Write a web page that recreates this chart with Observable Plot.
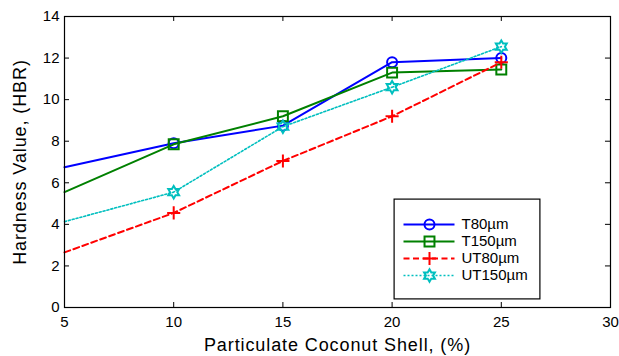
<!DOCTYPE html>
<html><head><meta charset="utf-8">
<script src="https://cdn.jsdelivr.net/npm/d3@7"></script>
<script src="https://cdn.jsdelivr.net/npm/@observablehq/plot@0.6"></script>
<style>
body{margin:0;background:#fff;}
#wrap{position:relative;width:619px;height:356px;font-family:"Liberation Sans",Arial,sans-serif;}
#chart > svg{display:block;}
[aria-label="x-axis label"], [aria-label="y-axis label"]{font-size:18px;letter-spacing:0.9px;}
[aria-label="legend text"]{letter-spacing:0.4px;}
</style></head><body><div id="wrap"><div id="chart"></div></div>
<script>
const xValues = [5, 10, 15, 20, 25];
const T80 = [6.75, 7.9, 8.75, 11.8, 12.0];
const T150 = [5.55, 7.85, 9.2, 11.3, 11.45];
const UT80 = [2.65, 4.55, 7.05, 9.2, 11.8];
const UT150 = [4.13, 5.55, 8.7, 10.6, 12.55];
const seriesNames = ["T80µm", "T150µm", "UT80µm", "UT150µm"];
const xTicks = [5, 10, 15, 20, 25, 30];
const yTicks = [0, 2, 4, 6, 8, 10, 12, 14];
const xLabel = "Particulate Coconut Shell, (%)";
const yLabel = "Hardness Value, (HBR)";

const hexagram = {
  draw(ctx, size) {
    const R = Math.sqrt(size / Math.PI) * 1.25;
    const r = R / Math.sqrt(3);
    for (let i = 0; i < 12; i++) {
      const a = Math.PI / 6 * i - Math.PI / 2;
      const rr = i % 2 ? r : R;
      const x = rr * Math.cos(a), y = rr * Math.sin(a);
      if (i) ctx.lineTo(x, y); else ctx.moveTo(x, y);
    }
    ctx.closePath();
  }
};

const seriesValues = [T80, T150, UT80, UT150];
const styles = [
  {color: "#0000ff", dash: null, symbol: "circle", r: 5, sw: 2},
  {color: "#008000", dash: null, symbol: "square", r: 5.6, sw: 2},
  {color: "#ff0000", dash: "6,3.5", symbol: "plus", r: 4.3, sw: 2},
  {color: "#00bfbf", dash: "2,2", symbol: hexagram, r: 5, sw: 1.6}
];
const series = seriesNames.map((name, k) => ({
  name, ...styles[k],
  data: xValues.map((x, i) => ({x, y: seriesValues[k][i], name}))
}));

const marks = [
  Plot.ruleX(xTicks, {x: d => d, y1: 0, y2: 0.24, stroke: "#000"}),
  Plot.ruleX(xTicks, {x: d => d, y1: 13.76, y2: 14, stroke: "#000"}),
  Plot.ruleY(yTicks, {y: d => d, x1: 5, x2: 5.23, stroke: "#000"}),
  Plot.ruleY(yTicks, {y: d => d, x1: 29.77, x2: 30, stroke: "#000"}),
  Plot.axisX(xTicks, {tickSize: 0, tickPadding: 9, fontSize: 15, label: xLabel, labelAnchor: "center", labelArrow: "none", labelOffset: 43}),
  Plot.axisY(yTicks, {tickSize: 0, tickPadding: 5, fontSize: 15, label: yLabel, labelAnchor: "center", labelArrow: "none", labelOffset: 51}),
];
for (const s of series) {
  marks.push(Plot.line(s.data, {x: "x", y: "y", stroke: s.color, strokeWidth: s.sw, strokeDasharray: s.dash}));
  // the reference shows no marker at the first x position
  marks.push(Plot.dot(s.data.slice(1), {x: "x", y: "y", symbol: s.symbol, r: s.r, stroke: s.color, fill: "none", strokeWidth: 2}));
}
marks.push(Plot.frame({stroke: "#000", strokeWidth: 1.2}));

const chart = Plot.plot({
  width: 619, height: 356,
  marginLeft: 64, marginRight: 9, marginTop: 16, marginBottom: 49,
  style: {fontFamily: "'Liberation Sans', Arial, sans-serif", fontSize: "15px", color: "#000", background: "#fff"},
  x: {domain: [5, 30]},
  y: {domain: [0, 14]},
  marks
});
document.getElementById("chart").append(chart);

// Legend, drawn as its own small plot and nested inside the chart's SVG
const legMarks = [Plot.frame({fill: "#fff", stroke: "none"})];
for (const s of series) {
  legMarks.push(Plot.link([s], {x1: 10, x2: 61, y1: "name", y2: "name", stroke: s.color, strokeWidth: s.sw, strokeDasharray: s.dash}));
  legMarks.push(Plot.dot([s], {x: 36, y: "name", symbol: s.symbol, r: s.r, stroke: s.color, fill: "none", strokeWidth: 2}));
}
legMarks.push(Plot.text(series, {x: 68, y: "name", text: "name", textAnchor: "start", fontSize: 15, fill: "#000", ariaLabel: "legend text"}));
legMarks.push(Plot.frame({stroke: "#000", strokeWidth: 1.2, inset: 0.6}));
const legend = Plot.plot({
  width: 147, height: 101, margin: 0,
  style: {fontFamily: "'Liberation Sans', Arial, sans-serif", fontSize: "15px", color: "#000", width: "147px", height: "101px", maxWidth: "none", overflow: "visible"},
  x: {type: "identity", axis: null},
  y: {type: "point", domain: seriesNames, range: [16, 87], axis: null},
  marks: legMarks
});
legend.setAttribute("x", 393);
legend.setAttribute("y", 198);
legend.style.height = "101px";
legend.style.width = "147px";
chart.append(legend);
</script></body></html>
